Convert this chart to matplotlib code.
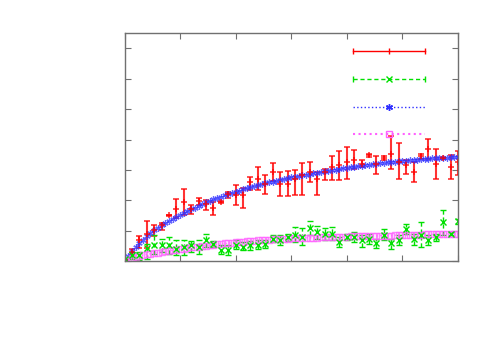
import numpy as np
import matplotlib
matplotlib.use('Agg')
import matplotlib.pyplot as plt

# sample index (46 measured samples across the x range)
x = np.arange(46)

red_y = [0.05, 0.30, 0.68, 0.90, 1.01, 1.18, 1.51, 1.73, 1.95, 1.73,
         1.98, 1.89, 1.75, 1.95, 2.22, 2.16, 2.16, 2.60, 2.69, 2.55,
         2.93, 2.55, 2.55, 2.71, 2.85, 2.93, 2.71, 2.93, 3.10, 3.15,
         3.26, 3.32, 3.21, 3.48, 3.21, 3.40, 3.54, 3.26, 3.15, 2.93,
         3.45, 3.68, 3.21, 3.40, 3.10, 3.26]
red_lo = [0.05, 0.19, 0.43, 0.43, 0.82, 1.03, 1.49, 1.42, 1.51, 1.56,
          1.86, 1.67, 1.51, 1.92, 2.08, 1.84, 1.75, 2.33, 2.33, 2.22,
          2.63, 2.14, 2.14, 2.16, 2.16, 2.60, 2.19, 2.66, 2.66, 2.66,
          2.71, 3.04, 3.10, 3.43, 2.88, 3.34, 3.02, 2.71, 2.88, 2.60,
          3.37, 3.37, 2.71, 3.37, 2.71, 2.85]
red_hi = [0.05, 0.41, 0.82, 1.32, 1.18, 1.25, 1.53, 2.03, 2.38, 1.84,
          2.08, 2.02, 1.95, 1.98, 2.27, 2.52, 2.41, 2.77, 3.10, 2.82,
          3.24, 2.93, 2.97, 2.99, 3.24, 3.26, 2.93, 3.04, 3.46, 3.62,
          3.74, 3.65, 3.32, 3.54, 3.45, 3.45, 4.12, 3.90, 3.32, 3.26,
          3.54, 4.01, 3.70, 3.43, 3.48, 3.62]

green_y = [0.08, 0.19, 0.19, 0.43, 0.52, 0.52, 0.52, 0.41, 0.46, 0.52,
           0.46, 0.68, 0.55, 0.38, 0.38, 0.54, 0.48, 0.52, 0.54, 0.57,
           0.74, 0.68, 0.79, 0.85, 0.79, 1.09, 0.96, 0.90, 0.90, 0.63,
           0.79, 0.79, 0.68, 0.74, 0.60, 0.87, 0.60, 0.68, 1.07, 0.74,
           0.85, 0.68, 0.79, 1.29, 0.90, 1.32]
green_lo = [0.08, 0.08, 0.02, 0.08, 0.24, 0.30, 0.24, 0.19, 0.19, 0.30,
            0.24, 0.46, 0.46, 0.24, 0.21, 0.41, 0.38, 0.38, 0.41, 0.43,
            0.63, 0.52, 0.65, 0.63, 0.52, 0.87, 0.74, 0.71, 0.68, 0.46,
            0.68, 0.63, 0.46, 0.57, 0.43, 0.68, 0.41, 0.54, 0.90, 0.52,
            0.46, 0.52, 0.65, 0.87, 0.85, 1.23]
green_hi = [0.08, 0.30, 0.30, 0.57, 0.85, 0.74, 0.79, 0.68, 0.68, 0.65,
            0.68, 0.90, 0.65, 0.52, 0.52, 0.68, 0.63, 0.65, 0.68, 0.68,
            0.85, 0.85, 0.90, 1.12, 1.09, 1.31, 1.14, 1.09, 1.12, 0.79,
            0.90, 0.96, 0.85, 0.90, 0.74, 1.07, 0.74, 0.85, 1.23, 0.90,
            1.29, 0.85, 0.90, 1.67, 0.96, 1.40]

# model curves, sampled every half step
blue_y = [0.00, 0.17, 0.32, 0.46, 0.58, 0.70, 0.82, 0.92, 1.02, 1.10,
          1.18, 1.25, 1.32, 1.39, 1.45, 1.52, 1.58, 1.64, 1.70, 1.76,
          1.82, 1.88, 1.93, 1.98, 2.03, 2.08, 2.12, 2.16, 2.20, 2.24,
          2.28, 2.32, 2.36, 2.40, 2.43, 2.47, 2.50, 2.53, 2.56, 2.59,
          2.62, 2.65, 2.68, 2.71, 2.73, 2.76, 2.78, 2.81, 2.83, 2.85,
          2.87, 2.89, 2.91, 2.93, 2.95, 2.97, 2.99, 3.01, 3.03, 3.05,
          3.07, 3.09, 3.10, 3.12, 3.14, 3.16, 3.17, 3.19, 3.20, 3.22,
          3.23, 3.25, 3.26, 3.27, 3.28, 3.30, 3.31, 3.32, 3.33, 3.34,
          3.35, 3.36, 3.37, 3.38, 3.39, 3.40, 3.40, 3.41, 3.42, 3.43,
          3.43]

pink_y = [0.00, 0.05, 0.10, 0.14, 0.17, 0.20, 0.22, 0.24, 0.26, 0.28,
          0.30, 0.32, 0.34, 0.36, 0.38, 0.40, 0.41, 0.43, 0.45, 0.47,
          0.48, 0.50, 0.51, 0.53, 0.54, 0.56, 0.57, 0.58, 0.59, 0.61,
          0.62, 0.63, 0.64, 0.65, 0.66, 0.67, 0.68, 0.69, 0.70, 0.71,
          0.72, 0.73, 0.73, 0.74, 0.74, 0.75, 0.75, 0.76, 0.76, 0.77,
          0.77, 0.77, 0.77, 0.78, 0.78, 0.79, 0.79, 0.80, 0.80, 0.80,
          0.80, 0.81, 0.81, 0.82, 0.82, 0.82, 0.82, 0.83, 0.83, 0.84,
          0.84, 0.84, 0.84, 0.85, 0.85, 0.86, 0.86, 0.86, 0.86, 0.87,
          0.87, 0.88, 0.88, 0.88, 0.88, 0.89, 0.89, 0.90, 0.90, 0.90,
          0.90]
x_fine = np.arange(len(blue_y)) * 0.5

red_y = np.array(red_y)
green_y = np.array(green_y)
red_err = [red_y - np.array(red_lo), np.array(red_hi) - red_y]
green_err = [green_y - np.array(green_lo), np.array(green_hi) - green_y]

fig = plt.figure(figsize=(5, 3.5), dpi=100)
ax = fig.add_axes([0.249, 0.254, 0.667, 0.651])

red = '#ff0000'
green = '#00e000'
blue = '#3030ff'
pink = '#ff60ff'

ax.errorbar(x, red_y, yerr=red_err, fmt='+', color=red, ms=4, mew=1.2,
            elinewidth=1.5, capsize=2.5, capthick=1.4, alpha=0.8)
eb = ax.errorbar(x, green_y, yerr=green_err, fmt='x', color=green, ms=4,
                 mew=1, elinewidth=1, capsize=2.5, capthick=1)
eb[2][0].set_linestyle((0, (3, 2)))

ax.plot(x_fine, blue_y, ':', color=blue, marker=(6, 2, 0), ms=4.5, mew=0.9,
        lw=1, alpha=0.75)
ax.plot(x_fine, pink_y, ':', color=pink, marker='s', mfc='none', ms=4.8, mew=1,
        lw=1, alpha=0.75)

# key (no titles), gnuplot style
kx = [0.685, 0.793, 0.901]
tr = ax.transAxes
ax.plot([kx[0], kx[2]], [0.921, 0.921], '-', color=red, lw=1, transform=tr)
ax.plot(kx, [0.921] * 3, '|', color=red, ms=5, transform=tr)
ax.plot([kx[0], kx[2]], [0.798, 0.798], '--', color=green, lw=1, dashes=(3, 2), transform=tr)
ax.plot([kx[0], kx[2]], [0.798] * 2, '|', color=green, ms=4, transform=tr)
ax.plot([kx[1]], [0.798], 'x', color=green, ms=4, mew=1, transform=tr)
ax.plot([kx[0], kx[2]], [0.675, 0.675], ':', color=blue, lw=1, transform=tr)
ax.plot([kx[1]], [0.675], marker=(6, 2, 0), color=blue, ms=5, transform=tr)
ax.plot([kx[0], kx[2]], [0.557, 0.557], ':', color=pink, lw=1.5, transform=tr)
ax.plot([kx[1]], [0.557], 's', mfc='none', color=pink, ms=4.5, transform=tr)

ax.set_xlim(0, 45)
ax.set_ylim(0, 7.5)
ax.set_xticks(np.arange(0, 46, 7.5))
ax.set_yticks(np.arange(0, 8, 1))
ax.set_xticklabels([])
ax.set_yticklabels([])
ax.tick_params(direction='in', length=4, color='#707070', top=True, right=True)
for s in ax.spines.values():
    s.set_color('#707070')
    s.set_linewidth(1)

fig.savefig('out.png', dpi=100)
